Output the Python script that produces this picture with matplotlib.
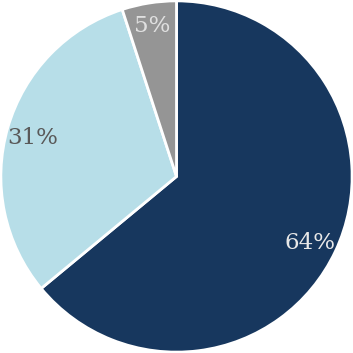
import matplotlib.pyplot as plt
import numpy as np

labels = ['A', 'B', 'C']
values = [64, 31, 5]
colors = ['#17375E', '#B7DEE8', '#959595']
text_colors = ['#E8E8E8', '#595959', '#E0E0E0']
label_radius = [0.84, 0.85, 0.89]

fig = plt.figure(figsize=(3.53, 3.53), dpi=100)
ax = fig.add_axes([0, 0, 1, 1])

wedges, texts = ax.pie(values, colors=colors, startangle=90, counterclock=False,
                       wedgeprops=dict(edgecolor='white', linewidth=2))

# percentage labels
for w, v, c, r in zip(wedges, values, text_colors, label_radius):
    ang = np.deg2rad((w.theta1 + w.theta2) / 2)
    ax.text(r * np.cos(ang), r * np.sin(ang) - 0.02, '%d%%' % v, color=c,
            ha='center', va='center', fontsize=16.5, family='DejaVu Serif')

ax.set_xlim(-1.005, 1.005)
ax.set_ylim(-1.005, 1.005)
ax.set_aspect('equal')
ax.axis('off')
fig.savefig('out.png', dpi=100)
